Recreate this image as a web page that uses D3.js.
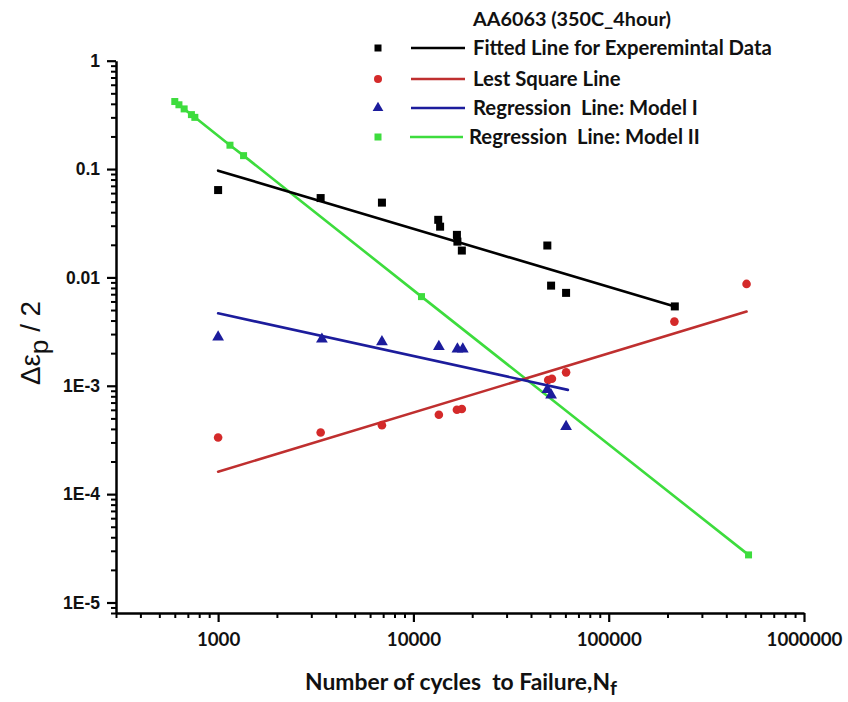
<!DOCTYPE html>
<html>
<head>
<meta charset="utf-8">
<script src="https://cdn.jsdelivr.net/npm/d3@7"></script>
<style>
  html, body { margin: 0; padding: 0; background: #fff; }
  svg { display: block; }
  text { white-space: pre; }
</style>
</head>
<body>
<svg id="chart" width="848" height="702"></svg>
<script>
// ---------------- data ----------------
const blackX = [1000, 3350, 6900, 13400, 13700, 16700, 16800, 17700, 48500, 50700, 60500, 218000];
const blackY = [0.064, 0.054, 0.049, 0.034, 0.0294, 0.0247, 0.0214, 0.0177, 0.0197, 0.0084, 0.0072, 0.0054];

const redX = [1000, 3350, 6900, 13500, 16700, 17700, 49000, 51200, 60500, 217000, 508000];
const redY = [3.33e-4, 3.70e-4, 4.33e-4, 5.40e-4, 6.0e-4, 6.1e-4, 1.13e-3, 1.16e-3, 1.33e-3, 3.91e-3, 8.71e-3];

const blueX = [1000, 3400, 6900, 13500, 16800, 17900, 48500, 50700, 60500];
const blueY = [2.81e-3, 2.69e-3, 2.54e-3, 2.30e-3, 2.18e-3, 2.18e-3, 9.2e-4, 8.2e-4, 4.2e-4];

const greenX = [600, 630, 670, 730, 760, 1150, 1350, 11000, 520000];
const greenY = [0.42, 0.392, 0.359, 0.318, 0.30, 0.166, 0.133, 6.65e-3, 2.75e-5];

// fitted line end points
const blackFitX = [1000, 218000];
const blackFitY = [0.0966, 0.00538];
const redFitX = [1000, 508000];
const redFitY = [1.61e-4, 4.84e-3];
const blueFitX = [1000, 61800];
const blueFitY = [4.67e-3, 9.17e-4];

const xMajorTicks = [1000, 10000, 100000, 1000000];
const xTickLabels = ["1000", "10000", "100000", "1000000"];
const yMajorTicks = [1, 0.1, 0.01, 1e-3, 1e-4, 1e-5];
const yTickLabels = ["1", "0.1", "0.01", "1E-3", "1E-4", "1E-5"];

const legendTitle = "AA6063 (350C_4hour)";
const legendLabels = ["Fitted Line for Experemintal Data", "Lest Square Line", "Regression  Line: Model I", "Regression  Line: Model II"];

// ---------------- helpers ----------------
// scale a text element's font-size so that its rendered width matches a target
function fitFont(sel, target) {
  const node = sel.node();
  const fs = parseFloat(sel.attr("font-size"));
  const w = node.getComputedTextLength();
  if (w > 0) sel.attr("font-size", (fs * target / w).toFixed(2));
  return fs * target / w;
}

// ---------------- scales ----------------
const svg = d3.select("#chart");
const x = d3.scaleLog().domain([300, 1e6]).range([116, 804]);
const y = d3.scaleLog().domain([8e-6, 1]).range([613, 60.7]);

const COL = {
  black: "#000000",
  redM: "#d42a2a", redL: "#bf2f2f",
  blue: "#1c1c9c",
  green: "#3ddc3d"
};
const sansBold = "Lato, 'Open Sans', sans-serif";
const arial = "'Liberation Sans', Arial, sans-serif";

// minor tick values
const xMinor = [];
for (let e = 2; e <= 5; e++) for (let k = 2; k <= 9; k++) {
  const v = k * Math.pow(10, e);
  if (v >= 300 && v <= 1e6) xMinor.push(v);
}
const yMinor = [];
for (let e = -6; e <= -1; e++) for (let k = 2; k <= 9; k++) {
  const v = k * Math.pow(10, e);
  if (v >= 8e-6 && v < 1) yMinor.push(v);
}

// ---------------- axes ----------------
const xAxisMinor = svg.append("g").attr("transform", "translate(0,613)")
  .call(d3.axisBottom(x).tickValues(xMinor).tickSize(5).tickSizeOuter(0).tickFormat(""));
xAxisMinor.select(".domain").remove();
xAxisMinor.selectAll("line").attr("stroke", "#000").attr("stroke-width", 2);

const xAxisMajor = svg.append("g").attr("transform", "translate(0,613)")
  .call(d3.axisBottom(x).tickValues(xMajorTicks).tickSize(9).tickSizeOuter(0)
    .tickFormat((d, i) => xTickLabels[i]));
xAxisMajor.select(".domain").attr("stroke", "#000").attr("stroke-width", 2.5);
xAxisMajor.selectAll("line").attr("stroke", "#000").attr("stroke-width", 2.2);
const xtl = xAxisMajor.selectAll("text")
  .attr("font-family", sansBold).attr("font-weight", "bold")
  .attr("font-size", 18).attr("fill", "#111").attr("y", 20).attr("dy", "0.71em");
// size so "1000000" is ~76px wide
const xfs = fitFont(xAxisMajor.selectAll("text").filter((d, i) => i === 3), 76);
xtl.attr("font-size", xfs.toFixed(2));

const yAxisMinor = svg.append("g").attr("transform", "translate(116,0)")
  .call(d3.axisLeft(y).tickValues(yMinor).tickSize(5).tickSizeOuter(0).tickFormat(""));
yAxisMinor.select(".domain").remove();
yAxisMinor.selectAll("line").attr("stroke", "#000").attr("stroke-width", 2);

const yAxisMajor = svg.append("g").attr("transform", "translate(116,0)")
  .call(d3.axisLeft(y).tickValues(yMajorTicks).tickSize(9).tickSizeOuter(0)
    .tickFormat((d, i) => yTickLabels[i]));
yAxisMajor.select(".domain").attr("stroke", "#000").attr("stroke-width", 2.5);
yAxisMajor.selectAll("line").attr("stroke", "#000").attr("stroke-width", 2.2);
const ytl = yAxisMajor.selectAll("text")
  .attr("font-family", arial).attr("font-weight", "bold")
  .attr("font-size", 16).attr("fill", "#111").attr("x", -16);
const yfs = fitFont(yAxisMajor.selectAll("text").filter((d, i) => i === 3), 37);
ytl.attr("font-size", yfs.toFixed(2));

// axis titles
const xt = svg.append("text").attr("x", 461).attr("y", 690).attr("text-anchor", "middle")
  .attr("font-family", sansBold).attr("font-weight", "bold")
  .attr("font-size", 18).attr("fill", "#111");
xt.append("tspan").text("Number of cycles  to Failure,N");
xt.append("tspan").attr("dy", 5).attr("font-size", "0.85em").text("f");
fitFont(xt, 312);

const yt = svg.append("text").attr("transform", "translate(40,343) rotate(-90)")
  .attr("text-anchor", "middle")
  .attr("font-family", arial)
  .attr("font-size", 20).attr("fill", "#111");
yt.append("tspan").text("\u0394\u03b5");
yt.append("tspan").attr("dy", "0.3em").attr("font-size", "0.95em").text("p");
yt.append("tspan").attr("dy", "-0.3em").text(" / 2");
fitFont(yt, 84);

// ---------------- lines ----------------
const line = d3.line().x(d => x(d[0])).y(d => y(d[1]));
const plot = svg.append("g");

function drawLine(xs, ys, color) {
  plot.append("path").datum(xs.map((v, i) => [v, ys[i]]))
    .attr("d", line).attr("fill", "none").attr("stroke", color)
    .attr("stroke-width", 2.6).attr("stroke-linecap", "round");
}
drawLine(greenX, greenY, COL.green);
drawLine(blackFitX, blackFitY, COL.black);
drawLine(redFitX, redFitY, COL.redL);
drawLine(blueFitX, blueFitY, COL.blue);

// ---------------- markers ----------------
function squares(xs, ys, color, s) {
  plot.selectAll(null).data(xs.map((v, i) => [v, ys[i]])).enter().append("rect")
    .attr("x", d => x(d[0]) - s / 2).attr("y", d => y(d[1]) - s / 2)
    .attr("width", s).attr("height", s).attr("fill", color);
}
function circles(xs, ys, color, r) {
  plot.selectAll(null).data(xs.map((v, i) => [v, ys[i]])).enter().append("circle")
    .attr("cx", d => x(d[0])).attr("cy", d => y(d[1])).attr("r", r).attr("fill", color);
}
const tri = d3.symbol().type(d3.symbolTriangle).size(60);
function triangles(xs, ys, color) {
  plot.selectAll(null).data(xs.map((v, i) => [v, ys[i]])).enter().append("path")
    .attr("d", tri).attr("transform", d => `translate(${x(d[0])},${y(d[1])})`)
    .attr("fill", color);
}
squares(greenX, greenY, COL.green, 7);
squares(blackX, blackY, COL.black, 8);
circles(redX, redY, COL.redM, 4.3);
triangles(blueX, blueY, COL.blue);

// ---------------- legend ----------------
const lg = svg.append("g");
const lt = lg.append("text").attr("x", 473).attr("y", 26).text(legendTitle)
  .attr("font-family", sansBold).attr("font-weight", "bold").attr("font-size", 17).attr("fill", "#111");
fitFont(lt, 198);

const legRows = [
  { y: 48, color: COL.black, lc: COL.black, sym: "square", x1: 411, x2: 465, tx: 473 },
  { y: 79, color: COL.redM, lc: COL.redL, sym: "circle", x1: 411, x2: 465, tx: 473 },
  { y: 108, color: COL.blue, lc: COL.blue, sym: "triangle", x1: 411, x2: 465, tx: 473 },
  { y: 137, color: COL.green, lc: COL.green, sym: "square", x1: 410, x2: 463, tx: 469 }
];
const legTexts = [];
legRows.forEach((r, i) => {
  lg.append("line").attr("x1", r.x1).attr("x2", r.x2).attr("y1", r.y).attr("y2", r.y)
    .attr("stroke", r.lc).attr("stroke-width", 2.6);
  if (r.sym === "square") lg.append("rect").attr("x", 378 - 3.5).attr("y", r.y - 3.5).attr("width", 7).attr("height", 7).attr("fill", r.color);
  if (r.sym === "circle") lg.append("circle").attr("cx", 378).attr("cy", r.y).attr("r", 4).attr("fill", r.color);
  if (r.sym === "triangle") lg.append("path").attr("d", d3.symbol().type(d3.symbolTriangle).size(50)).attr("transform", `translate(378,${r.y})`).attr("fill", r.color);
  legTexts.push(lg.append("text").attr("x", r.tx).attr("y", r.y).attr("dy", "0.36em").text(legendLabels[i])
    .attr("font-family", sansBold).attr("font-weight", "bold").attr("font-size", 17).attr("fill", "#111"));
});
// common legend size: "Regression  Line: Model I" spans ~225px in the reference
const lfs = fitFont(legTexts[2], 225);
legTexts.forEach(t => t.attr("font-size", lfs.toFixed(2)));
</script>
</body>
</html>
